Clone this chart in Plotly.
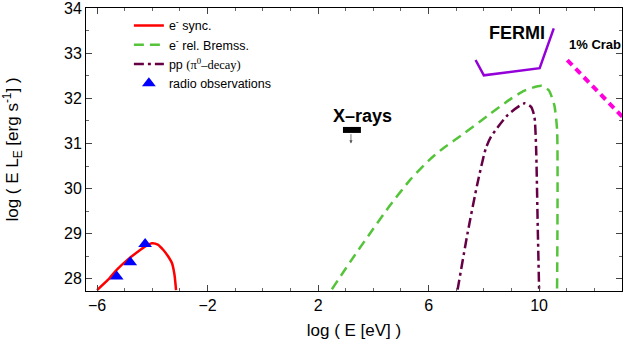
import plotly.graph_objects as go

# --- data ---
sync_x = [-6.0, -5.6, -5.29, -4.9, -4.44, -4.2, -4.02, -3.8, -3.6, -3.43, -3.29, -3.2, -3.14]
sync_y = [27.75, 27.98, 28.2, 28.42, 28.64, 28.74, 28.79, 28.76, 28.64, 28.5, 28.35, 28.1, 27.75]

brems_x = [2.5, 3.29, 4.01, 4.62, 5.34, 6.0, 6.5, 7.05, 8.26, 9.0, 9.47, 9.95, 10.1, 10.35, 10.55, 10.65, 10.65]
brems_y = [27.77, 28.49, 29.12, 29.64, 30.2, 30.62, 30.88, 31.12, 31.67, 32.0, 32.17, 32.27, 32.28, 32.18, 31.85, 31.3, 27.75]

pp_x = [7.05, 7.41, 7.77, 8.07, 8.26, 8.86, 9.47, 9.71, 9.83, 9.89, 9.95, 10.0]
pp_y = [27.76, 29.01, 30.12, 30.89, 31.15, 31.63, 31.89, 31.81, 31.59, 30.93, 29.16, 27.76]

radio_x = [-5.29, -4.8, -4.26]
radio_y = [28.05, 28.37, 28.77]

fermi_x = [7.70, 8.0, 10.02, 10.53]
fermi_y = [32.85, 32.51, 32.67, 33.55]

crab_x = [11.02, 13.3]
crab_y = [32.85, 31.41]

xray_x = [2.9, 3.55]
xray_y = [31.3, 31.3]

FONT = "Liberation Sans, Arial, sans-serif"

fig = go.Figure()
fig.add_trace(go.Scatter(x=sync_x, y=sync_y, mode="lines", name="e<sup>-</sup> sync.",
                         line=dict(color="#ff0000", width=2.5, shape="spline", smoothing=0.6)))
fig.add_trace(go.Scatter(x=brems_x, y=brems_y, mode="lines", name="e<sup>-</sup> rel. Bremss.",
                         line=dict(color="#55c43a", width=2.5, dash="10px,6px", shape="spline", smoothing=0.6)))
fig.add_trace(go.Scatter(x=pp_x, y=pp_y, mode="lines",
                         name="pp <span style='font-family:Liberation Serif'>(π<sup>0</sup>–decay)</span>",
                         line=dict(color="#660044", width=2.5, dash="10px,4px,3px,4px", shape="spline", smoothing=0.6)))
fig.add_trace(go.Scatter(x=radio_x, y=radio_y, mode="markers", name="radio observations",
                         marker=dict(symbol="triangle-up", size=12, color="#0000ff")))
fig.add_trace(go.Scatter(x=fermi_x, y=fermi_y, mode="lines", showlegend=False,
                         line=dict(color="#9400d8", width=2.5)))
fig.add_trace(go.Scatter(x=crab_x, y=crab_y, mode="lines", showlegend=False,
                         line=dict(color="#ff00dd", width=4, dash="7px,5px")))
fig.add_trace(go.Scatter(x=xray_x, y=xray_y, mode="lines", showlegend=False,
                         line=dict(color="#000000", width=6)))

fig.add_annotation(x=3.19, y=31.0, ax=3.19, ay=31.24, axref="x", ayref="y",
                   showarrow=True, arrowhead=2, arrowsize=0.8, arrowwidth=0.8,
                   arrowcolor="#555555", text="")
fig.add_annotation(x=3.59, y=31.6, text="<b>X–rays</b>", showarrow=False,
                   font=dict(size=18, color="black", family=FONT))
fig.add_annotation(x=9.2, y=33.44, text="<b>FERMI</b>", showarrow=False,
                   font=dict(size=18, color="black", family=FONT))
fig.add_annotation(x=11.02, y=33.2, text="<b>1% Crab</b>", showarrow=False, xanchor="left",
                   font=dict(size=13, color="black", family=FONT))

axis_common = dict(showline=True, linecolor="black", linewidth=1, mirror="ticks",
                   ticks="inside", ticklen=6, tickcolor="#444444", showgrid=False,
                   zeroline=False, automargin=False, ticklabeloverflow="allow",
                   tickfont=dict(size=16, color="black", family=FONT))

fig.update_xaxes(range=[-6.4, 13.0], tick0=-6, dtick=4,
                 minor=dict(dtick=1, ticks="inside", ticklen=3, tickcolor="#666666"),
                 title=dict(text="log ( E [eV] )", font=dict(size=17, family=FONT), standoff=10),
                 **axis_common)
fig.update_yaxes(range=[27.73, 34.003], tick0=28, dtick=1,
                 minor=dict(dtick=0.5, ticks="inside", ticklen=3, tickcolor="#666666"),
                 title=dict(text="log ( E L<sub>E</sub> [erg s<sup>-1</sup>] )", font=dict(size=17, family=FONT), standoff=45),
                 **axis_common)

fig.update_layout(
    width=623, height=341,
    margin=dict(l=86, r=1, t=8, b=50),
    plot_bgcolor="white", paper_bgcolor="white",
    font=dict(family=FONT, color="black"),
    legend=dict(x=0.08, y=0.99, xanchor="left", yanchor="top",
                bgcolor="rgba(0,0,0,0)", font=dict(size=12.5, family=FONT),
                tracegroupgap=0, itemwidth=30),
)

# drop the default 8px body margin so the figure sits at the window corner
fig.write_html("out.html", config={"displayModeBar": False},
               post_script="document.body.style.margin='0';")
